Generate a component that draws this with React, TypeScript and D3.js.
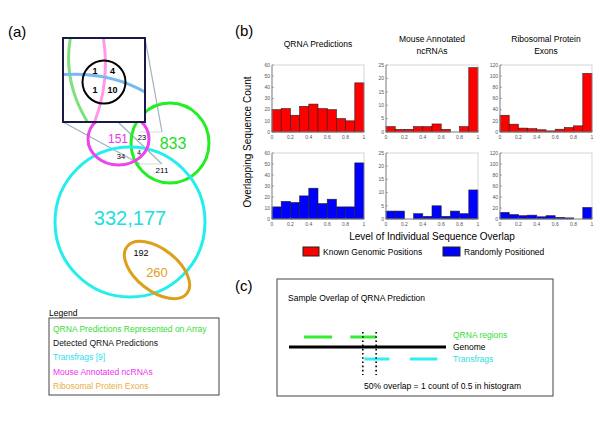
import React from 'react';
import * as d3 from 'd3';

// ---- data ----
const binStarts = [0, 0.1, 0.2, 0.3, 0.4, 0.5, 0.6, 0.7, 0.8, 0.9];
const xTickLabels = ['0', '0.2', '0.4', '0.6', '0.8', '1'];

const panelTitles = [['QRNA Predictions'], ['Mouse Annotated', 'ncRNAs'], ['Ribosomal Protein', 'Exons']];
const yMaxes = [60, 25, 120];
const yTickSteps = [10, 5, 20];

const qrnaKnown = [20, 21, 15, 23, 25, 21, 20, 12, 10, 44];
const mouseKnown = [2, 1, 1, 2, 2, 3, 1, 0, 2, 24];
const riboKnown = [30, 14, 7, 6, 4, 2, 5, 8, 11, 105];
const qrnaRandom = [11, 16, 15, 21, 28, 14, 18, 11, 11, 51];
const mouseRandom = [3, 3, 0, 2, 1, 5, 1, 3, 2, 11];
const riboRandom = [12, 8, 6, 7, 4, 6, 3, 2, 0, 21];

const vennCounts = { transfrags: '332,177', array: '833', ncrna: '151', ribo: '260', riboIn: '192', ncArr: '23', ncTr: '34', all3: '4', arrTr: '211' };
const insetCounts = ['1', '4', '1', '10'];

const legendEntries = [
  { label: 'QRNA Predictions Represented on Array', color: '#33dd33' },
  { label: 'Detected QRNA Predictions', color: '#111111' },
  { label: 'Transfrags [9]', color: '#33ddee' },
  { label: 'Mouse Annotated ncRNAs', color: '#ee33ee' },
  { label: 'Ribosomal Protein Exons', color: '#e8b040' },
];

const FONT = 'Liberation Sans, Arial, Helvetica, sans-serif';
const RED = '#ff0000';
const BLUE = '#0000ff';

interface HistProps { left: number; top: number; w: number; h: number; values: number[]; yMax: number; step: number; color: string }

const Hist: React.FC<HistProps> = ({ left, top, w, h, values, yMax, step, color }) => {
  const x = d3.scaleLinear().domain([0, 1]).range([left, left + w]);
  const y = d3.scaleLinear().domain([0, yMax]).range([top + h, top]);
  const yTicks = d3.range(0, yMax + 0.001, step);
  return (
    <g>
      {binStarts.map((b, i) => values[i] > 0 && (
        <rect key={i} x={x(b)} y={y(values[i])} width={x(b + 0.1) - x(b)} height={y(0) - y(values[i])}
          fill={color} stroke="#222" strokeWidth={0.6} />
      ))}
      <rect x={left} y={top} width={w} height={h} fill="none" stroke="#bbb" strokeWidth={0.6} />
      <line x1={left} x2={left} y1={top} y2={top + h} stroke="#666" strokeWidth={0.7} />
      <line x1={left} x2={left + w} y1={top + h} y2={top + h} stroke="#666" strokeWidth={0.7} />
      {yTicks.map(t => (
        <g key={t}>
          <line x1={left} x2={left + 2} y1={y(t)} y2={y(t)} stroke="#666" strokeWidth={0.5} />
          <text x={left - 2} y={y(t) + 1.8} fontSize={5} textAnchor="end" fill="#555" fontFamily={FONT}>{t}</text>
        </g>
      ))}
      {xTickLabels.map(t => (
        <g key={t}>
          <line x1={x(+t)} x2={x(+t)} y1={top + h} y2={top + h - 2} stroke="#666" strokeWidth={0.5} />
          <text x={x(+t)} y={top + h + 6.5} fontSize={5} textAnchor="middle" fill="#555" fontFamily={FONT}>{t}</text>
        </g>
      ))}
    </g>
  );
};

const App: React.FC = () => {
  const colLefts = [272, 386, 500];
  const plotW = 92;
  const known = [qrnaKnown, mouseKnown, riboKnown];
  const random = [qrnaRandom, mouseRandom, riboRandom];

  // genome diagram scale (c)
  const gx = d3.scaleLinear().domain([0, 1]).range([289, 446]);

  return (
    <svg width={600} height={427} style={{ position: 'absolute', left: 0, top: 0, background: '#fff' }} fontFamily={FONT}>
      <defs>
        <clipPath id="inset"><rect x={63} y={38} width={82} height={84} /></clipPath>
      </defs>

      {/* ---------- (a) ---------- */}
      <text x={8} y={37} fontSize={15}>(a)</text>

      {/* zoom connector lines */}
      <g stroke="#9fb0c0" strokeWidth={1.2} fill="none">
        <line x1={63} y1={122} x2={140} y2={164} />
        <line x1={118} y1={122} x2={162} y2={164} />
        <line x1={145} y1={38} x2={162} y2={132} />
      </g>
      <g stroke="#c8d8c8" strokeWidth={0.8} fill="none">
        <line x1={140} y1={132} x2={162} y2={132} />
        <line x1={140} y1={164} x2={162} y2={164} />
      </g>

      <ellipse cx={170} cy={143} rx={39} ry={40} fill="none" stroke="#22ee22" strokeWidth={3} />
      <ellipse cx={130} cy={222} rx={75} ry={75} fill="none" stroke="#22eeee" strokeWidth={3} />
      <ellipse cx={118.5} cy={139} rx={30.5} ry={26} fill="none" stroke="#ee44ee" strokeWidth={3} />
      <ellipse cx={157} cy={270} rx={38} ry={21} transform="rotate(38 157 270)" fill="none" stroke="#dca01c" strokeWidth={3} />

      <text x={130} y={225} fontSize={20} fill="#22dddd" textAnchor="middle">{vennCounts.transfrags}</text>
      <text x={173} y={149} fontSize={16} fill="#22dd22" textAnchor="middle">{vennCounts.array}</text>
      <text x={118} y={143} fontSize={12} fill="#ee33ee" textAnchor="middle">{vennCounts.ncrna}</text>
      <text x={157} y={277} fontSize={13} fill="#e0a020" textAnchor="middle">{vennCounts.ribo}</text>
      <text x={141} y={256} fontSize={9} textAnchor="middle">{vennCounts.riboIn}</text>
      <text x={142} y={139.5} fontSize={7.5} textAnchor="middle">{vennCounts.ncArr}</text>
      <text x={121} y={158.5} fontSize={7.5} textAnchor="middle">{vennCounts.ncTr}</text>
      <text x={139} y={155} fontSize={6.5} textAnchor="middle">{vennCounts.all3}</text>
      <text x={162} y={173} fontSize={8} textAnchor="middle">{vennCounts.arrTr}</text>

      {/* inset square */}
      <rect x={63} y={38} width={82} height={84} fill="#fff" />
      <g clipPath="url(#inset)" fill="none" strokeWidth={3}>
        <path d="M72,30 Q60,80 90,126" stroke="#7fe07f" />
        <path d="M102,30 Q112,80 93,126" stroke="#ff99ee" />
        <path d="M58,75 Q110,70 150,95" stroke="#7ab8ee" />
      </g>
      <rect x={63} y={38} width={82} height={84} fill="none" stroke="#1a1a48" strokeWidth={2} />
      <circle cx={104} cy={82} r={21.5} fill="none" stroke="#000" strokeWidth={2} />
      {insetCounts.map((c, i) => (
        <text key={i} x={i % 2 === 0 ? 95 : 112.5} y={i < 2 ? 74 : 93} fontSize={9} fontWeight="bold" textAnchor="middle">{c}</text>
      ))}

      {/* legend (a) */}
      <text x={49} y={316} fontSize={8.5}>Legend</text>
      <rect x={49} y={318} width={170} height={77} fill="#fff" stroke="#444" strokeWidth={1} />
      {legendEntries.map((e, i) => (
        <text key={i} x={53} y={332 + i * 14.2} fontSize={8.5} fill={e.color}>{e.label}</text>
      ))}

      {/* ---------- (b) ---------- */}
      <text x={235} y={36} fontSize={15}>(b)</text>
      {panelTitles.map((lines, i) => (
        <text key={i} x={colLefts[i] + plotW / 2} y={lines.length === 1 ? 47 : 42} fontSize={8.5} textAnchor="middle">
          {lines.map((l, j) => <tspan key={j} x={colLefts[i] + plotW / 2} dy={j === 0 ? 0 : 11.5}>{l}</tspan>)}
        </text>
      ))}
      {colLefts.map((l, i) => (
        <Hist key={'k' + i} left={l} top={65} w={plotW} h={67} values={known[i]} yMax={yMaxes[i]} step={yTickSteps[i]} color={RED} />
      ))}
      {colLefts.map((l, i) => (
        <Hist key={'r' + i} left={l} top={153} w={plotW} h={66} values={random[i]} yMax={yMaxes[i]} step={yTickSteps[i]} color={BLUE} />
      ))}
      <text transform="translate(251,142) rotate(-90)" fontSize={10} textAnchor="middle">Overlapping Sequence Count</text>
      <text x={432} y={240} fontSize={10} textAnchor="middle">Level of Individual Sequence Overlap</text>

      <rect x={303} y={247} width={16} height={9} fill={RED} stroke="#222" strokeWidth={1} />
      <text x={323} y={255} fontSize={8.5}>Known Genomic Positions</text>
      <rect x={443} y={247} width={17} height={9} fill={BLUE} stroke="#222" strokeWidth={1} />
      <text x={464} y={255} fontSize={8.5}>Randomly Positioned</text>

      {/* ---------- (c) ---------- */}
      <text x={235} y={291} fontSize={15}>(c)</text>
      <rect x={277} y={279} width={276} height={117} fill="none" stroke="#444" strokeWidth={1} />
      <text x={288} y={301} fontSize={8.5}>Sample Overlap of QRNA Prediction</text>

      <line x1={gx(0)} x2={gx(1)} y1={347} y2={347} stroke="#000" strokeWidth={3} />
      {[[0.095, 0.275], [0.39, 0.555]].map(([a, b], i) => (
        <line key={'g' + i} x1={gx(a)} x2={gx(b)} y1={337} y2={337} stroke="#33ee33" strokeWidth={3} />
      ))}
      {[[0.48, 0.64], [0.77, 0.945]].map(([a, b], i) => (
        <line key={'t' + i} x1={gx(a)} x2={gx(b)} y1={359} y2={359} stroke="#33eeee" strokeWidth={3} />
      ))}
      {[0.47, 0.555].map((p, i) => (
        <line key={'d' + i} x1={gx(p)} x2={gx(p)} y1={332} y2={375} stroke="#000" strokeWidth={1.6} strokeDasharray="1.6 2.6" />
      ))}
      <text x={453} y={338} fontSize={8.5} fill="#33dd33">QRNA regions</text>
      <text x={453} y={350} fontSize={8.5}>Genome</text>
      <text x={453} y={362} fontSize={8.5} fill="#33dddd">Transfrags</text>
      <text x={364} y={389} fontSize={8.5}>50% overlap = 1 count of 0.5 in histogram</text>
    </svg>
  );
};

export default App;
